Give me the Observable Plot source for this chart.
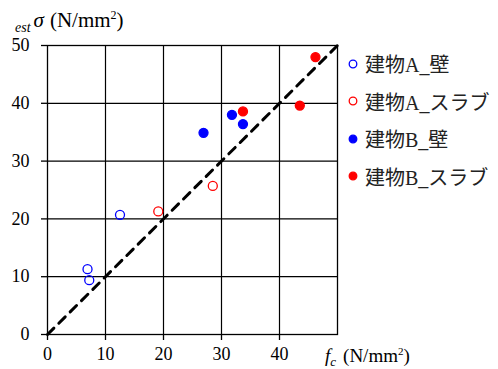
<!DOCTYPE html>
<html><head><meta charset="utf-8">
<script src="https://cdn.jsdelivr.net/npm/d3@7"></script>
<script src="https://cdn.jsdelivr.net/npm/@observablehq/plot@0.6"></script>
<style>
body{margin:0;background:#fff;}
#wrap{position:relative;width:498px;height:369px;overflow:hidden;}
#legend{position:absolute;left:347px;top:45px;font-family:"Liberation Serif","Times New Roman","Noto Sans CJK JP",serif;font-size:20px;color:#222;white-space:nowrap;}
.row{height:37.5px;display:flex;align-items:center;}
.row svg{margin-right:6px;}
</style></head>
<body><div id="wrap"><div id="legend"></div></div>
<script>
const seriesNames = ["建物A_壁","建物A_スラブ","建物B_壁","建物B_スラブ"];
const seriesColor = ["#0000ff","#ff0000","#0000ff","#ff0000"];
const seriesFilled = [false,false,true,true];
const aWallX = [6.9, 7.2, 12.5];
const aWallY = [11.3, 9.4, 20.7];
const aSlabX = [19.1, 28.5];
const aSlabY = [21.3, 25.7];
const bWallX = [26.9, 31.8, 33.7];
const bWallY = [34.9, 38.0, 36.4];
const bSlabX = [33.7, 43.5, 46.2];
const bSlabY = [38.6, 39.6, 48.0];
const xTicks = [0,10,20,30,40];
const yTicks = [0,10,20,30,40,50];
const gridVals = [10,20,30,40];
const refLine = [0,50];

const xs=[aWallX,aSlabX,bWallX,bSlabX], ys=[aWallY,aSlabY,bWallY,bSlabY];
const pts=[];
xs.forEach((arr,i)=>arr.forEach((x,j)=>pts.push({x,y:ys[i][j],s:i})));
const serif="'Liberation Serif','Times New Roman',serif";

const chart = Plot.plot({
  width:498, height:369,
  marginLeft:47, marginRight:161, marginTop:45, marginBottom:35,
  style:`font-family:${serif};font-size:18px;color:#000;background:#fff;`,
  x:{domain:[0,50]}, y:{domain:[0,50]},
  marks:[
    Plot.gridX(gridVals,{stroke:"#000",strokeOpacity:1,strokeWidth:1.2}),
    Plot.gridY(gridVals,{stroke:"#000",strokeOpacity:1,strokeWidth:1.2}),
    Plot.frame({stroke:"#000",strokeWidth:1.3}),
    Plot.line(refLine.map(v=>({x:v,y:v})),{x:"x",y:"y",stroke:"#000",strokeWidth:3,strokeDasharray:"9,7"}),
    Plot.dot(pts,{x:"x",y:"y",r:4.5,strokeWidth:1.3,
      stroke:d=>seriesColor[d.s], fill:d=>seriesFilled[d.s]?seriesColor[d.s]:"none"}),
    Plot.axisX(xTicks,{tickSize:6,tickPadding:7,label:null,fontSize:18,stroke:"#000",strokeWidth:1.3}),
    Plot.axisY(yTicks,{tickSize:6,tickPadding:12,label:null,fontSize:18,stroke:"#000",strokeWidth:1.3})
  ]
});
document.getElementById("wrap").prepend(chart);
const svg=d3.select(chart);
svg.selectAll("text").style("font-family",serif);
const yt=svg.append("text").attr("x",15).attr("y",27).attr("text-anchor","start").style("font-family",serif).attr("font-size",21).attr("fill","#000");
yt.append("tspan").attr("font-style","italic").attr("font-size",14).attr("dy",5).text("est");
yt.append("tspan").attr("dy",-5).attr("dx",3).attr("font-style","italic").text("σ");
yt.append("tspan").attr("dx",6).text("(N/mm");
yt.append("tspan").attr("font-size",12).attr("dy",-8).text("2");
yt.append("tspan").attr("dy",8).text(")");
const xt=svg.append("text").attr("x",325).attr("y",362).attr("text-anchor","start").style("font-family",serif).attr("font-size",19).attr("fill","#000");
xt.append("tspan").attr("font-style","italic").text("f");
xt.append("tspan").attr("font-style","italic").attr("font-size",13).attr("dy",4).text("c");
xt.append("tspan").attr("dy",-4).attr("dx",7).text("(N/mm");
xt.append("tspan").attr("font-size",11).attr("dy",-7).text("2");
xt.append("tspan").attr("dy",7).text(")");

const lg=d3.select("#legend");
seriesNames.forEach((n,i)=>{
  const r=lg.append("div").attr("class","row");
  const s=r.append("svg").attr("width",12).attr("height",12);
  s.append("circle").attr("cx",6).attr("cy",6).attr("r",3.8).attr("stroke",seriesColor[i]).attr("stroke-width",1.3).attr("fill",seriesFilled[i]?seriesColor[i]:"none");
  r.append("span").text(n);
});
</script></body></html>
